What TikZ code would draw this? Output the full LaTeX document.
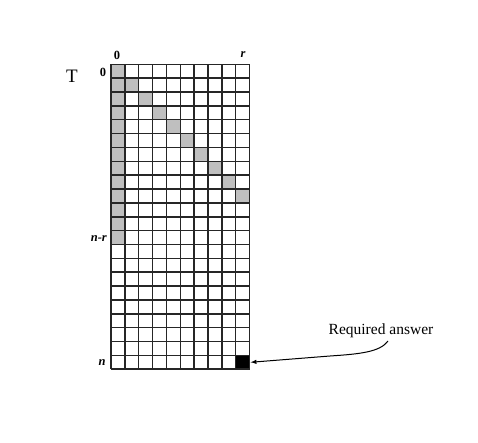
\documentclass[tikz,border=0pt]{standalone}
\usepackage{fontspec}
\setmainfont{Liberation Serif}
\begin{document}
\begin{tikzpicture}[x=1pt,y=-1pt,
  gridline/.style={line width=1.5pt,black!85},
  lbl/.style={inner sep=0pt,font=\fontsize{12.5}{12.5}\selectfont\bfseries},
  arr/.style={-latex,line width=1pt}]
\useasboundingbox (0,0) rectangle (478,443);
\def\cw{13.86}
\def\xo{111}
\def\yo{64.3}
% gray column 0, rows 0..12
\fill[black!25] (\xo,\yo) rectangle ({\xo+\cw},{\yo+13*\cw});
% diagonal
\foreach \i in {1,...,9}{
  \fill[black!25] ({\xo+\i*\cw},{\yo+\i*\cw}) rectangle ({\xo+(\i+1)*\cw},{\yo+(\i+1)*\cw});
}
% black cell
\fill[black] ({\xo+9*\cw},{\yo+21*\cw}) rectangle ({\xo+10*\cw},{\yo+22*\cw});
% grid
\foreach \i in {0,...,10}{
  \draw[gridline] ({\xo+\i*\cw},\yo) -- ({\xo+\i*\cw},{\yo+22*\cw});
}
\foreach \j in {0,...,22}{
  \draw[gridline] (\xo,{\yo+\j*\cw}) -- ({\xo+10*\cw},{\yo+\j*\cw});
}
\coordinate (ans) at ({\xo+10*\cw+1},{\yo+21.5*\cw});
\node[inner sep=0pt,font=\fontsize{19}{19}\selectfont] (T) at (72,76) {T};
\node[lbl] (c0) at (117,55) {0};
\node[lbl] (cr) at (243,55) {\itshape r};
\node[lbl] (r0) at (103,72) {0};
\node[lbl,anchor=east] (rnr) at (107,239) {\itshape n-r};
\node[lbl] (rn) at (102,363) {\itshape n};
\node[inner sep=1pt,font=\fontsize{15.5}{15.5}\selectfont] (req) at (381,331) {Required answer};
\draw[arr] (388,341) .. controls (380,352) and (360,354) .. (330,356) -- (ans);
\end{tikzpicture}
\end{document}
